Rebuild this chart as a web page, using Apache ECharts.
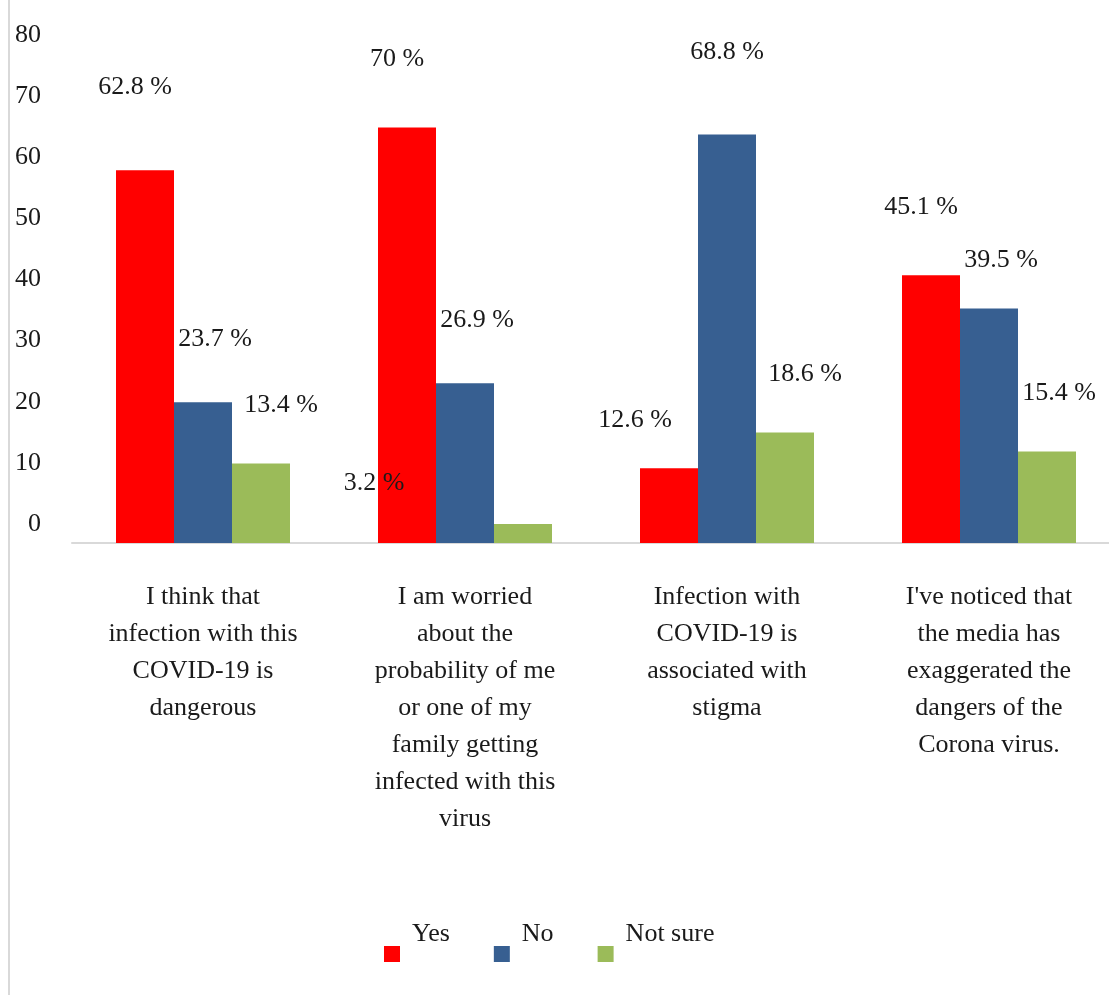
<html>
	<head>
		<meta charset="UTF-8">
		<title>COVID-19 attitudes</title>
		<script src="https://cdn.jsdelivr.net/npm/echarts@6/dist/echarts.min.js"></script>
		<style>html,body,#container{width:100%;height:100%;margin:0;padding:0;background:#fff;}</style>
	</head>
	<body>
		<div id="container"></div>
		<script>

		// 数据
		var categories = [
			'I think that\ninfection with this\nCOVID-19 is\ndangerous',
			'I am worried\nabout the\nprobability of me\nor one of my\nfamily getting\ninfected with this\nvirus',
			'Infection with\nCOVID-19 is\nassociated with\nstigma',
			"I've noticed that\nthe media has\nexaggerated the\ndangers of the\nCorona virus."
		];
		var seriesNames = ['Yes', 'No', 'Not sure'];
		var yesValues = [62.8, 70, 12.6, 45.1];
		var noValues = [23.7, 26.9, 68.8, 39.5];
		var notSureValues = [13.4, 3.2, 18.6, 15.4];
		var yTicks = [0, 80, 10];   // min, max, interval

		var font = 'Liberation Serif';
		var textColor = '#1a1a1a';

		function makeSeries(name, values, color, offset) {
			return {
				name: name,
				type: 'bar',
				xAxisIndex: 0,
				yAxisIndex: 0,
				barWidth: 58,
				barGap: '0%',
				itemStyle: { color: color },
				label: {
					show: true,
					position: 'top',
					distance: 0,
					offset: offset,
					fontFamily: font,
					fontSize: 26,
					color: textColor,
					formatter: '{c} %'
				},
				data: values.slice()
			};
		}

		function nudge(series, i, offset) {
			series.data[i] = { value: series.data[i], label: { offset: offset } };
		}

		var sYes = makeSeries(seriesNames[0], yesValues, '#ff0000', [-10, -55]);
		var sNo = makeSeries(seriesNames[1], noValues, '#375f91', [12, -50]);
		var sNot = makeSeries(seriesNames[2], notSureValues, '#9bbb59', [20, -45]);
		// 原图里有几个标签位置不太规则
		nudge(sYes, 0, [-10, -70]);
		nudge(sYes, 2, [-34, -35]);
		nudge(sNo, 2, [0, -69]);
		nudge(sNo, 3, [12, -35]);
		nudge(sNot, 1, [-149, -28]);
		nudge(sNot, 3, [12, -45]);

		var chart = echarts.init(document.getElementById('container'));
		chart.setOption({
			backgroundColor: '#fff',
			animation: false,
			textStyle: { fontFamily: font },
			graphic: [{
				type: 'line',
				shape: { x1: 9, y1: 0, x2: 9, y2: 995 },
				style: { stroke: '#d9d9d9', lineWidth: 2 }
			}],
			legend: {
				left: 379,
				top: 916,
				itemWidth: 16,
				itemHeight: 16,
				itemGap: 44,
				icon: 'rect',
				formatter: '{t|{name}}',
				textStyle: {
					fontFamily: font,
					fontSize: 26,
					color: textColor,
					rich: {
						t: {
							fontFamily: font,
							fontSize: 26,
							color: textColor,
							padding: [0, 0, 40, 7]
						}
					}
				},
				data: seriesNames
			},
			grid: [
				{ left: 72, width: 1048, top: 68, bottom: 452, outerBoundsMode: 'none' },
				{ left: 48, width: 10, top: 35, bottom: 471, outerBoundsMode: 'none' }
			],
			xAxis: [{
				type: 'category',
				gridIndex: 0,
				data: categories,
				axisTick: { show: false },
				axisLine: { lineStyle: { color: '#d9d9d9', width: 2 } },
				axisLabel: {
					interval: 0,
					margin: 36,
					fontFamily: font,
					fontSize: 26,
					lineHeight: 37,
					color: textColor,
					align: 'center'
				}
			}, {
				type: 'value',
				gridIndex: 1,
				show: false
			}],
			yAxis: [{
				type: 'value',
				gridIndex: 0,
				min: yTicks[0],
				max: yTicks[1],
				interval: yTicks[2],
				show: false
			}, {
				type: 'value',
				gridIndex: 1,
				min: yTicks[0],
				max: yTicks[1],
				interval: yTicks[2],
				axisLine: { show: false },
				axisTick: { show: false },
				splitLine: { show: false },
				axisLabel: {
					margin: 7,
					fontFamily: font,
					fontSize: 26,
					color: textColor
				}
			}],
			series: [sYes, sNo, sNot]
		});

		</script>
</body>
</html>
